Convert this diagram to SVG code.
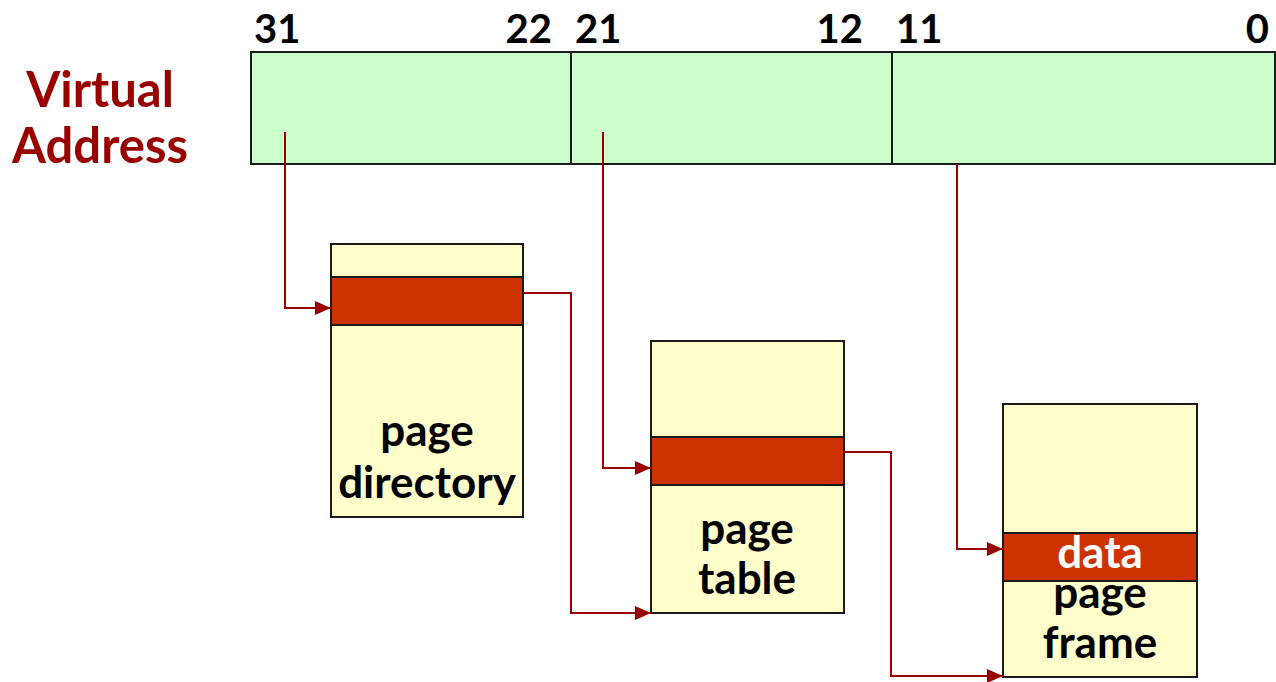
<svg xmlns="http://www.w3.org/2000/svg" width="1276" height="682" viewBox="0 0 1276 682">
  <style>
    .bits { font-family: Lato, "Open Sans", "Liberation Sans", sans-serif; font-weight: bold; font-size: 40px; fill: #000; }
    .title { font-family: Lato, "Open Sans", "Liberation Sans", sans-serif; font-weight: bold; font-size: 49px; fill: #990000; text-anchor: middle; }
    .lbl { font-family: Lato, "Open Sans", "Liberation Sans", sans-serif; font-weight: bold; font-size: 44px; fill: #000; text-anchor: middle; }
    .field { fill: #CCFFCC; stroke: #1a1a1a; stroke-width: 2; }
    .mem { fill: #FFFFCC; stroke: #1a1a1a; stroke-width: 2; }
    .entry { fill: #CC3300; stroke: #1a1a1a; stroke-width: 2; }
    .conn { fill: none; stroke: #990000; stroke-width: 2; }
  </style>
  <defs>
    <marker id="arrow" markerWidth="16" markerHeight="14" refX="16" refY="7" orient="auto" markerUnits="userSpaceOnUse">
      <path d="M0,0 L16,7 L0,14 Z" fill="#990000"/>
    </marker>
  </defs>

  <!-- virtual address bar -->
  <g id="virtual-address">
    <text class="title" x="100" y="107">Virtual</text>
    <text class="title" x="100" y="163">Address</text>
    <rect class="field" x="251" y="52" width="1024" height="112"/>
    <line x1="571" y1="52" x2="571" y2="164" stroke="#1a1a1a" stroke-width="2"/>
    <line x1="892" y1="52" x2="892" y2="164" stroke="#1a1a1a" stroke-width="2"/>
    <text class="bits" x="254" y="43">31</text>
    <text class="bits" x="552" y="43" text-anchor="end">22</text>
    <text class="bits" x="575" y="43">21</text>
    <text class="bits" x="863" y="43" text-anchor="end">12</text>
    <text class="bits" x="896" y="43">11</text>
    <text class="bits" x="1269" y="43" text-anchor="end">0</text>
  </g>

  <!-- page directory -->
  <g id="page-directory">
    <rect class="mem" x="331" y="244" width="192" height="273"/>
    <rect class="entry" x="331" y="277" width="192" height="48"/>
    <text class="lbl" x="427" y="446">page</text>
    <text class="lbl" x="427" y="498">directory</text>
  </g>

  <!-- page table -->
  <g id="page-table">
    <rect class="mem" x="651" y="341" width="193" height="272"/>
    <rect class="entry" x="651" y="437" width="193" height="48"/>
    <text class="lbl" x="747" y="544">page</text>
    <text class="lbl" x="747" y="594">table</text>
  </g>

  <!-- page frame: the data entry sits over the top of the caption -->
  <g id="page-frame">
    <rect class="mem" x="1003" y="404" width="194" height="273"/>
    <text class="lbl" x="1100" y="608">page</text>
    <text class="lbl" x="1100" y="658">frame</text>
    <rect class="entry" x="1003" y="533" width="194" height="48"/>
    <text class="lbl" x="1100" y="568" style="fill:#fff" font-size="36">data</text>
  </g>

  <!-- connectors -->
  <g id="connectors">
    <path class="conn" d="M285,132 V308 H331" marker-end="url(#arrow)"/>
    <path class="conn" d="M523,293 H571 V613 H651" marker-end="url(#arrow)"/>
    <path class="conn" d="M603,132 V468 H651" marker-end="url(#arrow)"/>
    <path class="conn" d="M844,452 H891 V676 H1003" marker-end="url(#arrow)"/>
    <path class="conn" d="M957,164 V549 H1003" marker-end="url(#arrow)"/>
  </g>
</svg>
